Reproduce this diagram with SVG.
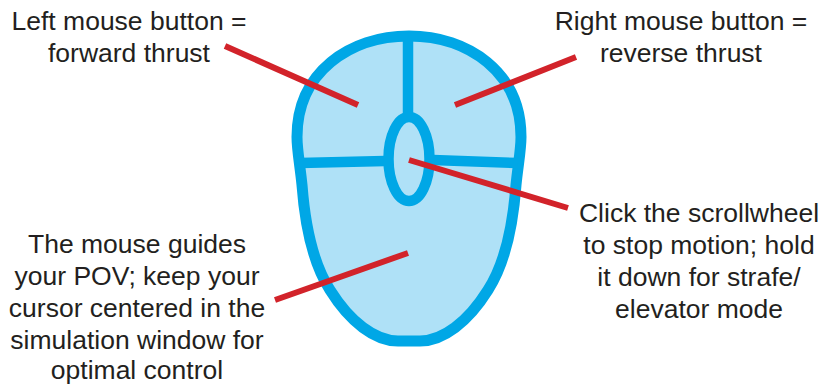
<svg xmlns="http://www.w3.org/2000/svg" width="822" height="385" viewBox="0 0 822 385">
<style>
text{font-family:"Liberation Sans",Arial,sans-serif;font-size:26.5px;fill:#231f20;text-anchor:middle}
.b{fill:#afe1f7;stroke:#00a7e6;stroke-width:11}
.p{fill:none;stroke:#00a7e6;stroke-width:10.5}
.r{stroke:#d2232a;stroke-width:6;fill:none}
</style>
<rect width="822" height="385" fill="#fff"/>
<g id="mouse">
<path class="b" d="M409 36C350 36 297 72 297 137C297 150 300 165 302 185C305 225 312 262 330 290C350 322 375 341 398 341L420 341C443 341 468 322 488 290C506 262 513 225 516 185C518 165 521 150 521 137C521 72 468 36 409 36Z"/>
<path class="p" d="M408 36V115M300 163L385 161M433 160L518 163"/>
<ellipse class="p" cx="409" cy="159" rx="20.5" ry="42"/>
</g>
<g id="connectors">
<path class="r" d="M225 46L358 105M576 57L455 105M409 160L568 208M408 253L275 300"/>
</g>
<g id="label-left"><text x="129" y="30">Left mouse button =</text><text x="129" y="62">forward thrust</text></g>
<g id="label-right"><text x="681" y="30">Right mouse button =</text><text x="681" y="62">reverse thrust</text></g>
<g id="label-wheel"><text x="699" y="222">Click the scrollwheel</text><text x="699" y="254">to stop motion; hold</text><text x="699" y="286">it down for strafe/</text><text x="699" y="318">elevator mode</text></g>
<g id="label-pov"><text x="137" y="253">The mouse guides</text><text x="137" y="285">your POV; keep your</text><text x="137" y="317">cursor centered in the</text><text x="137" y="349">simulation window for</text><text x="137" y="379">optimal control</text></g>
</svg>
